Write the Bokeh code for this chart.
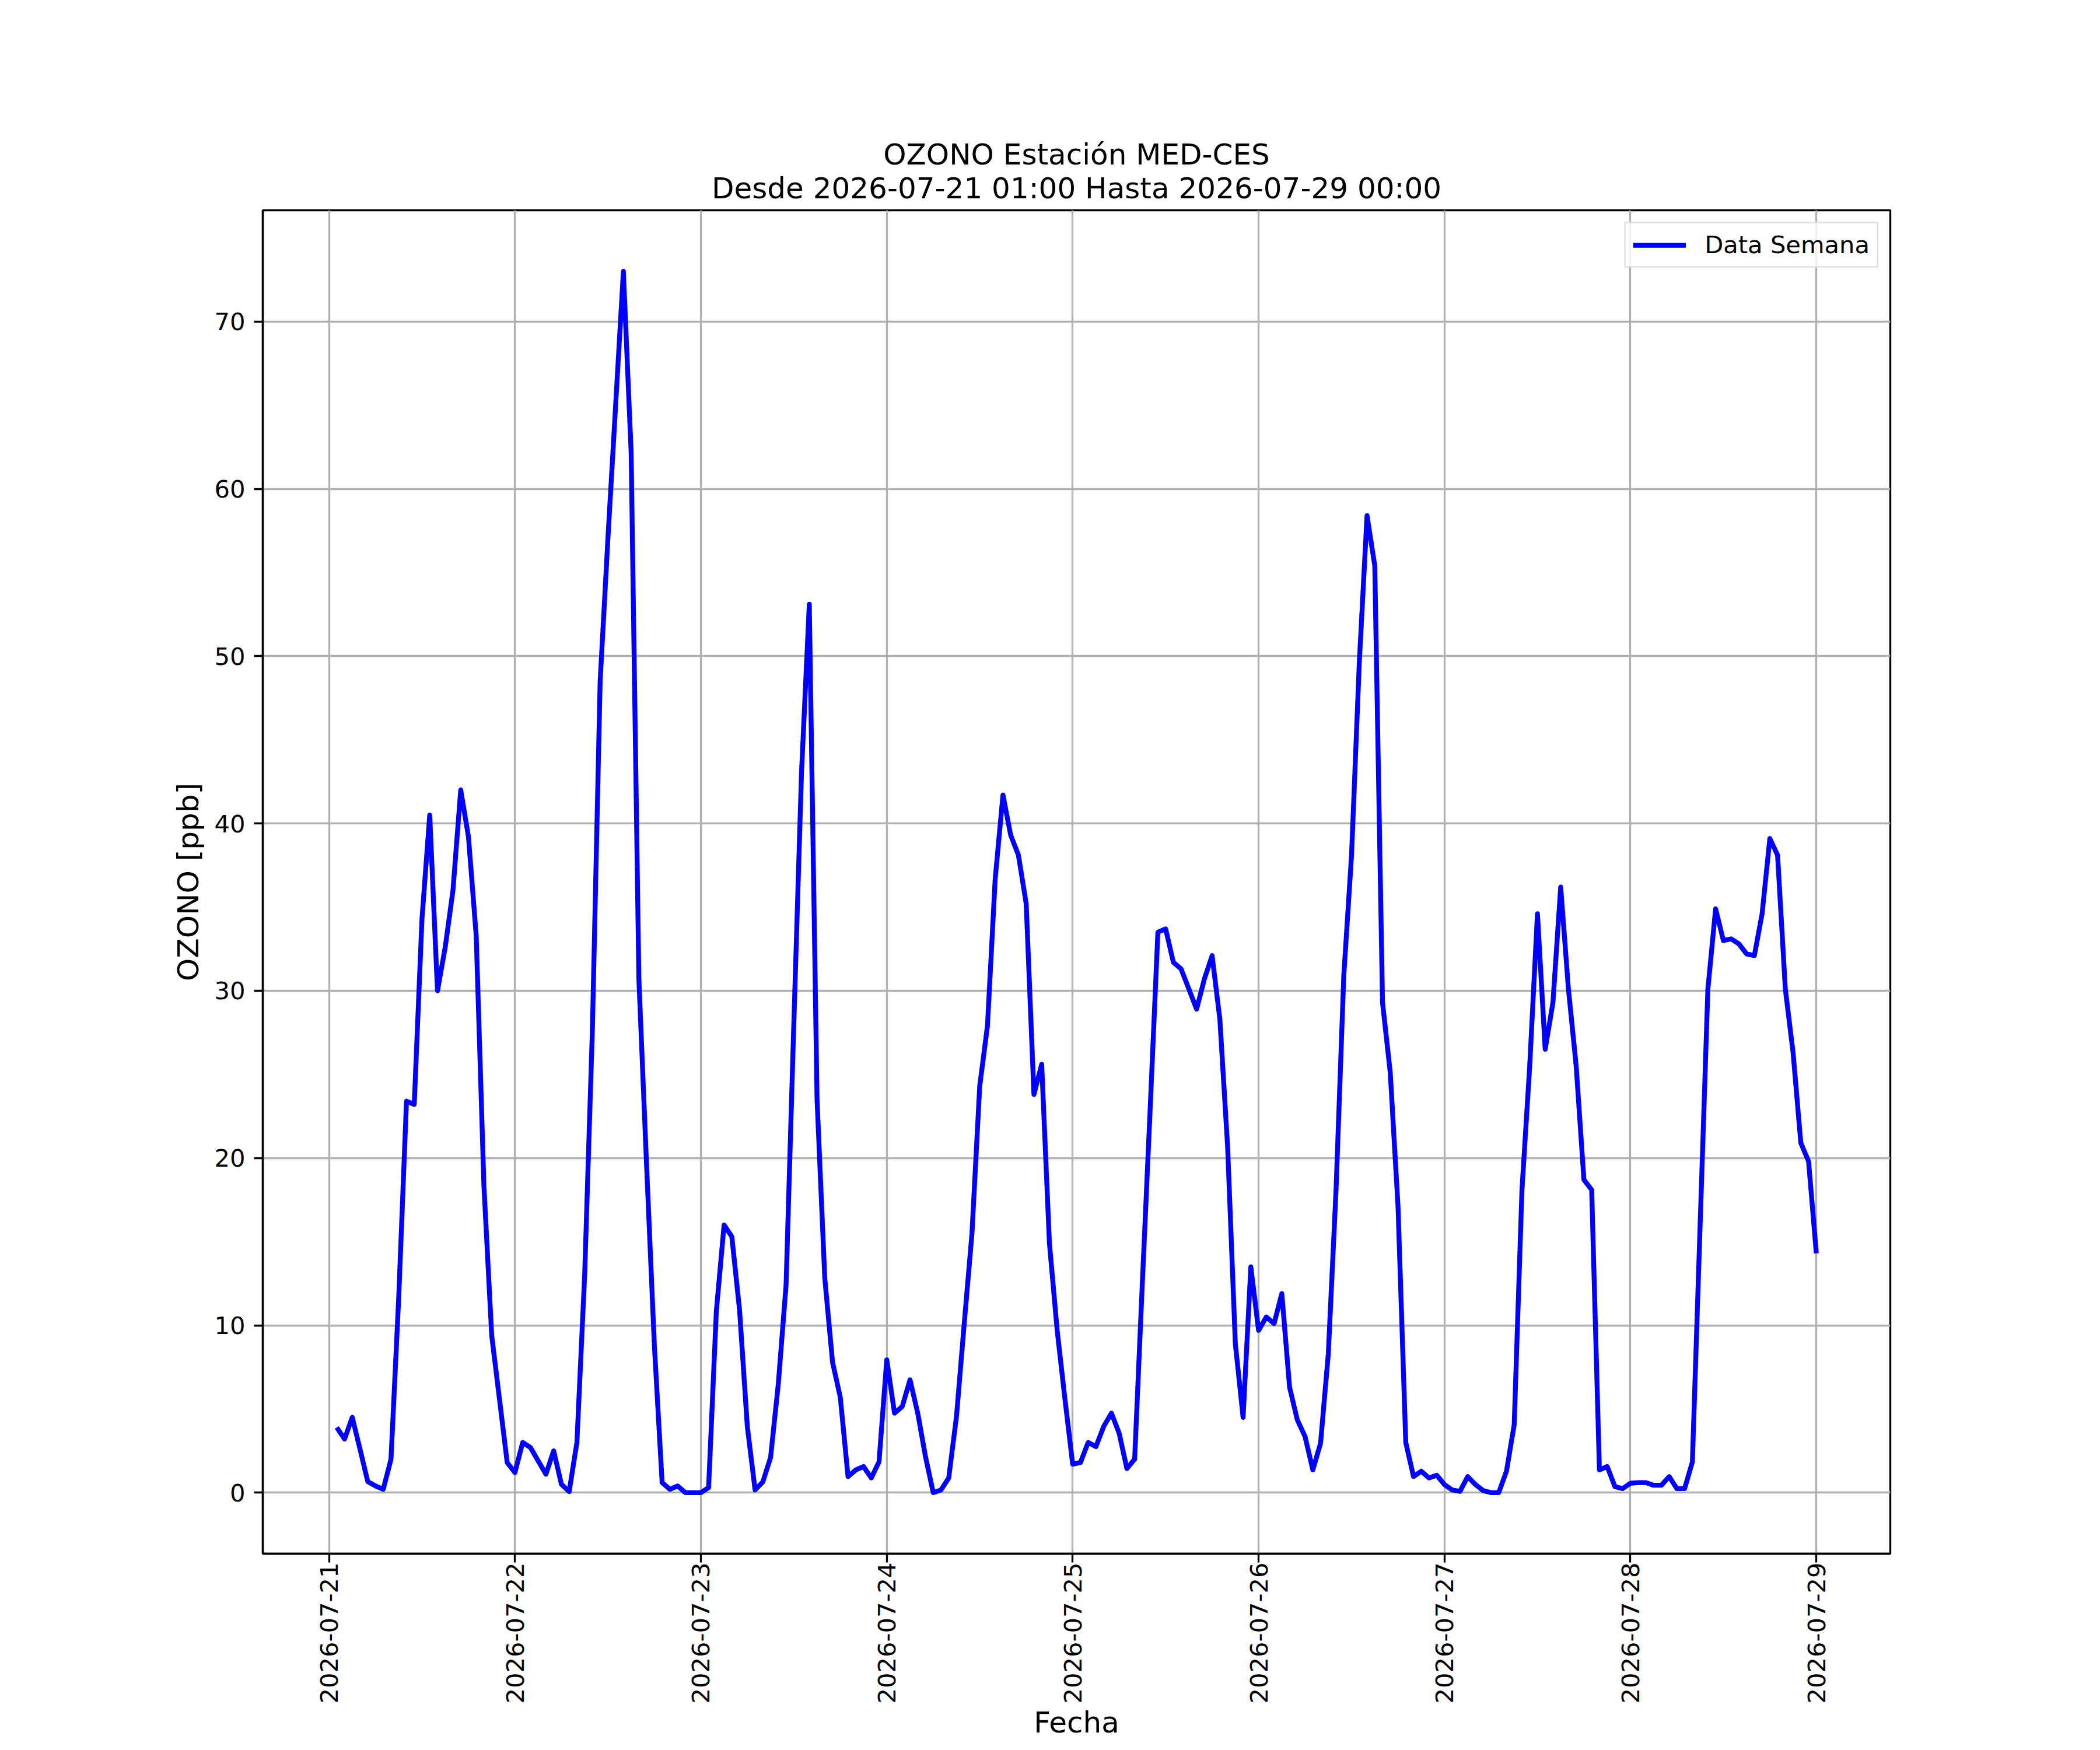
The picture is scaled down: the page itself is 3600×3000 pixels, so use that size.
import math
import pandas as pd
from bokeh.plotting import figure
from bokeh.models import Range1d, FixedTicker, DatetimeTickFormatter, ColumnDataSource, Title
from bokeh.embed import file_html
from bokeh.resources import INLINE

# ---- data -------------------------------------------------------------
start_time = "2026-07-21 01:00"
n_hours = 192
ozono = [
    3.9, 3.2, 4.5, 2.6, 0.66, 0.4, 0.2, 2.0, 11.7, 23.4, 23.2, 34.3,
    40.5, 30.0, 32.6, 36.0, 42.0, 39.2, 33.3, 18.3, 9.4, 5.6, 1.8, 1.2,
    3.0, 2.7, 1.9, 1.1, 2.5, 0.5, 0.06, 3.0, 13.0, 27.7, 48.5, 57.0,
    65.0, 73.0, 62.2, 30.7, 19.5, 8.8, 0.6, 0.2, 0.4, 0.0, 0.0, 0.0,
    0.3, 10.85, 16.0, 15.3, 10.9, 3.95, 0.16, 0.64, 2.1, 6.5, 12.4, 28.0,
    43.1, 53.1, 23.5, 12.8, 7.8, 5.7, 0.96, 1.36, 1.56, 0.88, 1.84, 7.94,
    4.75, 5.15, 6.74, 4.75, 2.15, 0.0, 0.16, 0.88, 4.55, 10.1, 15.5, 24.3,
    27.9, 36.7, 41.7, 39.3, 38.1, 35.2, 23.8, 25.6, 14.9, 9.7, 5.6, 1.7,
    1.8, 3.0, 2.75, 3.95, 4.75, 3.55, 1.44, 2.0, 12.6, 22.9, 33.5, 33.7,
    31.7, 31.3, 30.1, 28.9, 30.7, 32.1, 28.3, 20.7, 8.9, 4.5, 13.5, 9.7,
    10.5, 10.1, 11.9, 6.3, 4.35, 3.35, 1.36, 2.95, 8.3, 18.1, 30.9, 38.1,
    49.6, 58.4, 55.4, 29.3, 25.1, 17.1, 3.0, 0.96, 1.28, 0.88, 1.04, 0.48,
    0.16, 0.08, 0.96, 0.48, 0.12, 0.0, 0.0, 1.28, 4.07, 18.1, 25.5, 34.6,
    26.5, 29.3, 36.2, 30.1, 25.5, 18.7, 18.1, 1.36, 1.56, 0.36, 0.24, 0.56,
    0.6, 0.6, 0.44, 0.44, 0.96, 0.24, 0.24, 1.84, 16.0, 30.1, 34.9, 33.0,
    33.1, 32.8, 32.2, 32.1, 34.6, 39.1, 38.1, 30.1, 26.3, 20.9, 19.8, 14.3,
]
tick_days = ["2026-07-21", "2026-07-22", "2026-07-23", "2026-07-24", "2026-07-25",
             "2026-07-26", "2026-07-27", "2026-07-28", "2026-07-29"]
y_ticks = [0, 10, 20, 30, 40, 50, 60, 70]
title_line1 = "OZONO Estación MED-CES"
title_line2 = "Desde 2026-07-21 01:00 Hasta 2026-07-29 00:00"
legend_text = "Data Semana"
x_label = "Fecha"
y_label = "OZONO [ppb]"

# ---- build ------------------------------------------------------------
fechas = pd.date_range(start_time, periods=n_hours, freq="h")
source = ColumnDataSource(dict(fecha=fechas, ozono=ozono))

span = fechas[-1] - fechas[0]
x0 = fechas[0] - 0.05 * span
x1 = fechas[-1] + 0.05 * span
ymin, ymax = min(ozono), max(ozono)
yr = ymax - ymin
y0 = ymin - 0.05 * yr
y1 = ymax + 0.05 * yr

FONT = "DejaVu Sans"
W, H = 3584, 2984
BL, BT = 450, 360
FW, FH = 2790, 2310
BR = W - BL - FW
BB = H - BT - FH

p = figure(width=W, height=H, x_axis_type="datetime",
           x_range=Range1d(x0.to_pydatetime(), x1.to_pydatetime()),
           y_range=Range1d(y0, y1), title=None,
           output_backend="svg", toolbar_location=None,
           min_border_left=BL, min_border_right=BR,
           min_border_top=BT, min_border_bottom=BB)

t2 = Title(text=title_line2, align="center", text_font=FONT, text_font_size="50px",
           text_font_style="normal", text_color="black", standoff=17)
t1 = Title(text=title_line1, align="center", text_font=FONT, text_font_size="50px",
           text_font_style="normal", text_color="black", standoff=-20)
p.add_layout(t2, "above")
p.add_layout(t1, "above")

p.line(x="fecha", y="ozono", source=source, line_color="#0000ff",
       line_width=8.33, line_join="round", legend_label=legend_text)

tick_ms = [pd.Timestamp(d).value // 10**6 for d in tick_days]
p.xaxis.ticker = FixedTicker(ticks=tick_ms)
fmt = "%Y-%m-%d"
p.xaxis.formatter = DatetimeTickFormatter(milliseconds=fmt, seconds=fmt, minsec=fmt,
                                          minutes=fmt, hourmin=fmt, hours=fmt,
                                          days=fmt, months=fmt, years=fmt)
p.xaxis.major_label_orientation = math.pi / 2
p.yaxis.ticker = FixedTicker(ticks=y_ticks)

p.xaxis.axis_label = x_label
p.yaxis.axis_label = y_label

for ax in (p.xaxis, p.yaxis):
    ax.axis_label_text_font = FONT
    ax.axis_label_text_font_size = "50px"
    ax.axis_label_text_font_style = "normal"
    ax.axis_label_text_color = "black"
    ax.major_label_text_font = FONT
    ax.major_label_text_font_size = "41.67px"
    ax.major_label_text_color = "black"
    ax.axis_line_color = "black"
    ax.axis_line_width = 3.33
    ax.major_tick_line_color = "black"
    ax.major_tick_line_width = 3.33
    ax.major_tick_out = 15
    ax.major_tick_in = 0
    ax.minor_tick_line_color = None

p.xaxis.major_label_standoff = 0
p.xaxis.axis_label_standoff = 0
p.yaxis.major_label_standoff = 15
p.yaxis.axis_label_standoff = 12

p.xgrid.grid_line_color = "#b0b0b0"
p.ygrid.grid_line_color = "#b0b0b0"
p.xgrid.grid_line_width = 3.33
p.ygrid.grid_line_width = 3.33

p.outline_line_color = "black"
p.outline_line_width = 3.33
p.outline_line_alpha = 1.0
p.background_fill_color = "white"
p.border_fill_color = "white"

lg = p.legend[0]
lg.location = "top_right"
lg.margin = 20
lg.padding = 12
lg.spacing = 0
lg.glyph_width = 91
lg.glyph_height = 42
lg.label_standoff = 32
lg.label_text_font = FONT
lg.label_text_font_size = "41.67px"
lg.label_text_color = "black"
lg.border_line_color = "#cccccc"
lg.border_line_width = 3.33
lg.background_fill_alpha = 0.8

open("out.html", "w").write(file_html(p, INLINE))
